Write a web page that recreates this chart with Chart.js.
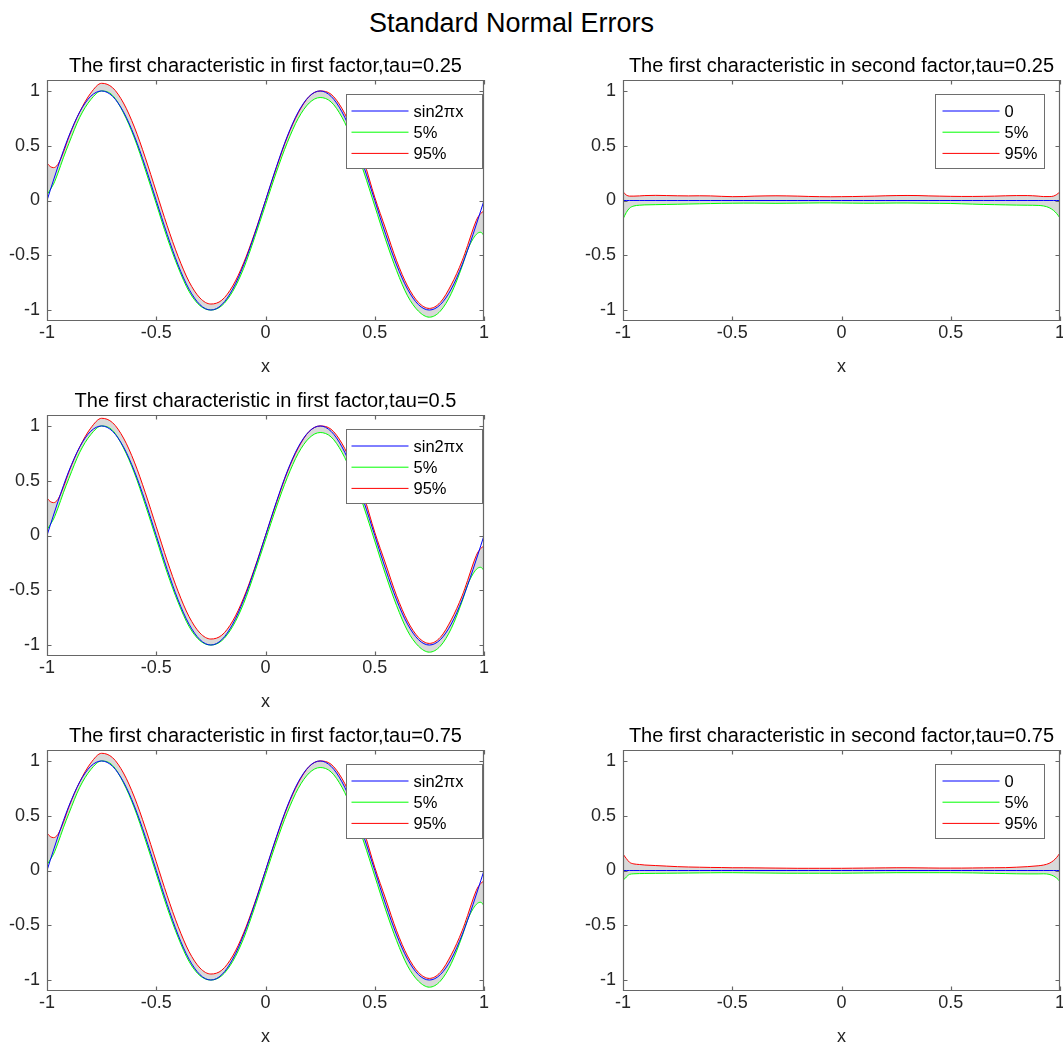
<!DOCTYPE html>
<html>
<head>
<meta charset="utf-8">
<script src="https://cdn.jsdelivr.net/npm/chart.js@4.4.1/dist/chart.umd.min.js"></script>
<style>
  html, body { margin: 0; padding: 0; background: #fff; overflow: hidden; }
  body { width: 1063px; height: 1044px; position: relative; font-family: "Liberation Sans", Arial, sans-serif; }
  #suptitle { position: absolute; left: 0; top: 10px; width: 1023px; text-align: center; font-size: 27px; line-height: 27px; color: #000; }
  canvas { position: absolute; }
</style>
</head>
<body>
<div id="suptitle">Standard Normal Errors</div>
<canvas id="p1" width="496" height="328" style="left:0;top:50px"></canvas>
<canvas id="p2" width="487" height="328" style="left:576px;top:50px"></canvas>
<canvas id="p3" width="496" height="328" style="left:0;top:385px"></canvas>
<canvas id="p5" width="496" height="328" style="left:0;top:720px"></canvas>
<canvas id="p6" width="487" height="328" style="left:576px;top:720px"></canvas>
<script>
const FONT = '"Liberation Sans", Arial, sans-serif';

// grid of x values (denser near the ends)
const xVals = [-1, -0.985, -0.97, -0.95, -0.925, -0.9, -0.85, -0.8, -0.75, -0.7, -0.65, -0.6, -0.55, -0.5,
  -0.45, -0.4, -0.35, -0.3, -0.25, -0.2, -0.15, -0.1, -0.05, 0, 0.05, 0.1, 0.15, 0.2, 0.25, 0.3, 0.35,
  0.4, 0.45, 0.5, 0.55, 0.6, 0.65, 0.7, 0.75, 0.8, 0.85, 0.9, 0.925, 0.95, 0.97, 0.985, 1];
const xTicks = [-1, -0.5, 0, 0.5, 1];
const yTicks = [-1, -0.5, 0, 0.5, 1];

const panelTitles = [
  'The first characteristic in first factor,tau=0.25',
  'The first characteristic in second factor,tau=0.25',
  'The first characteristic in first factor,tau=0.5',
  'The first characteristic in first factor,tau=0.75',
  'The first characteristic in second factor,tau=0.75'
];
const firstLabels = ['sin2\u03c0x', '5%', '95%'];
const secondLabels = ['0', '5%', '95%'];

// first factor (same in the three left panels)
const sinCurve = [0, 0.094, 0.187, 0.309, 0.454, 0.588, 0.809, 0.951, 1, 0.951, 0.809, 0.588, 0.309, 0,
  -0.309, -0.588, -0.809, -0.951, -1, -0.951, -0.809, -0.588, -0.309, 0, 0.309, 0.588, 0.809, 0.951, 1,
  0.951, 0.809, 0.588, 0.309, 0, -0.309, -0.588, -0.809, -0.951, -1, -0.951, -0.809, -0.588, -0.454,
  -0.309, -0.187, -0.094, 0];
const firstLow = [0.05, 0.10, 0.15, 0.25, 0.39, 0.52, 0.76, 0.92, 1.0, 0.96, 0.80, 0.57, 0.28, -0.03,
  -0.34, -0.61, -0.83, -0.96, -1.0, -0.96, -0.83, -0.62, -0.34, -0.04, 0.26, 0.53, 0.75, 0.89, 0.94,
  0.90, 0.76, 0.54, 0.26, -0.05, -0.36, -0.64, -0.87, -1.01, -1.065, -1.01, -0.85, -0.60, -0.45,
  -0.35, -0.30, -0.29, -0.32];
const firstHigh = [0.34, 0.31, 0.30, 0.33, 0.44, 0.58, 0.81, 0.98, 1.07, 1.03, 0.89, 0.67, 0.39, 0.08,
  -0.23, -0.51, -0.74, -0.89, -0.945, -0.91, -0.78, -0.57, -0.30, 0.0, 0.30, 0.58, 0.80, 0.95, 1.0,
  0.97, 0.84, 0.63, 0.36, 0.03, -0.26, -0.55, -0.78, -0.93, -0.985, -0.93, -0.77, -0.55, -0.41,
  -0.26, -0.16, -0.12, -0.09];

// second factor
const zeroCurve = [0, 0, 0, 0, 0, 0, 0, 0, 0, 0, 0, 0, 0, 0, 0, 0, 0, 0, 0, 0, 0, 0, 0, 0,
  0, 0, 0, 0, 0, 0, 0, 0, 0, 0, 0, 0, 0, 0, 0, 0, 0, 0, 0, 0, 0, 0, 0];
const secondLow25 = [-0.17, -0.11, -0.07, -0.05, -0.043, -0.04, -0.038, -0.036, -0.034, -0.032, -0.03,
  -0.028, -0.026, -0.025, -0.024, -0.024, -0.025, -0.026, -0.025, -0.024, -0.023, -0.022, -0.022,
  -0.023, -0.024, -0.025, -0.025, -0.024, -0.023, -0.023, -0.024, -0.025, -0.026, -0.027, -0.03,
  -0.033, -0.036, -0.038, -0.04, -0.042, -0.043, -0.045, -0.05, -0.065, -0.09, -0.12, -0.16];
const secondHigh25 = [0.08, 0.05, 0.04, 0.04, 0.042, 0.045, 0.047, 0.045, 0.043, 0.042, 0.043, 0.042,
  0.038, 0.035, 0.036, 0.04, 0.042, 0.043, 0.042, 0.04, 0.037, 0.035, 0.034, 0.035, 0.036, 0.038,
  0.04, 0.043, 0.045, 0.046, 0.045, 0.042, 0.04, 0.038, 0.037, 0.037, 0.038, 0.04, 0.043, 0.045,
  0.045, 0.04, 0.036, 0.036, 0.04, 0.055, 0.08];
const secondLow75 = [-0.09, -0.06, -0.035, -0.03, -0.028, -0.027, -0.026, -0.025, -0.024, -0.023,
  -0.022, -0.021, -0.02, -0.02, -0.021, -0.022, -0.023, -0.024, -0.025, -0.025, -0.025, -0.025,
  -0.025, -0.025, -0.024, -0.023, -0.022, -0.021, -0.02, -0.02, -0.02, -0.02, -0.02, -0.02, -0.021,
  -0.022, -0.024, -0.026, -0.028, -0.03, -0.031, -0.031, -0.03, -0.035, -0.05, -0.07, -0.10];
const secondHigh75 = [0.15, 0.11, 0.075, 0.06, 0.055, 0.05, 0.045, 0.04, 0.035, 0.032, 0.03, 0.028,
  0.027, 0.025, 0.025, 0.024, 0.023, 0.022, 0.021, 0.02, 0.02, 0.02, 0.02, 0.02, 0.021, 0.022, 0.023,
  0.024, 0.025, 0.025, 0.024, 0.023, 0.022, 0.022, 0.022, 0.023, 0.024, 0.025, 0.026, 0.03, 0.035,
  0.043, 0.05, 0.065, 0.09, 0.12, 0.16];

const pts = ys => ys.map((y, i) => ({ x: xVals[i], y: y }));

// box around the axes with inward ticks, like matlab
const axesBox = {
  id: 'axesBox',
  afterDatasetsDraw(chart) {
    const { ctx, chartArea: a, scales: { x, y } } = chart;
    const tl = 4.5;
    ctx.save();
    ctx.strokeStyle = '#666';
    ctx.lineWidth = 1.2;
    ctx.beginPath();
    ctx.rect(a.left + 0.5, a.top + 0.5, a.width - 1, a.height - 1);
    xTicks.forEach(v => {
      const px = Math.round(x.getPixelForValue(v)) + 0.5;
      ctx.moveTo(px, a.bottom); ctx.lineTo(px, a.bottom - tl);
      ctx.moveTo(px, a.top); ctx.lineTo(px, a.top + tl);
    });
    yTicks.forEach(v => {
      const py = Math.round(y.getPixelForValue(v)) + 0.5;
      ctx.moveTo(a.left, py); ctx.lineTo(a.left + tl, py);
      ctx.moveTo(a.right, py); ctx.lineTo(a.right - tl, py);
    });
    ctx.stroke();
    ctx.restore();
  }
};

// legend box in the upper right corner of the axes
const boxLegend = {
  id: 'boxLegend',
  afterDraw(chart, args, opts) {
    const { ctx, chartArea: a } = chart;
    const bx = Math.round(a.right - opts.inset - opts.width) + 0.5;
    const by = a.top + 14.5;
    ctx.save();
    ctx.fillStyle = '#fff';
    ctx.strokeStyle = '#6e6e6e';
    ctx.lineWidth = 1;
    ctx.fillRect(bx, by, opts.width, 74);
    ctx.strokeRect(bx, by, opts.width, 74);
    ctx.font = '16.5px ' + FONT;
    ctx.textBaseline = 'middle';
    chart.data.datasets.forEach((ds, i) => {
      const ly = by + 16.5 + i * 21.2;
      ctx.strokeStyle = ds.borderColor;
      ctx.lineWidth = 1;
      ctx.beginPath();
      ctx.moveTo(bx + opts.lineStart, ly);
      ctx.lineTo(bx + opts.lineStart + 57, ly);
      ctx.stroke();
      ctx.fillStyle = '#000';
      ctx.fillText(ds.label, bx + opts.textX, ly + 1);
    });
    ctx.restore();
  }
};

function panel(id, title, series, labels, leg, padRight) {
  const line = (color) => ({
    borderColor: color, borderWidth: 1, pointRadius: 0, cubicInterpolationMode: 'monotone', fill: false
  });
  new Chart(document.getElementById(id), {
    type: 'line',
    data: {
      datasets: [
        Object.assign(line('#0000ff'), { label: labels[0], data: pts(series[0]) }),
        Object.assign(line('#00ff00'), { label: labels[1], data: pts(series[1]) }),
        Object.assign(line('#ff0000'), { label: labels[2], data: pts(series[2]),
          fill: '-1', backgroundColor: 'rgba(128,128,128,0.3)' })
      ]
    },
    options: {
      responsive: false,
      animation: false,
      devicePixelRatio: 1,
      layout: { padding: { left: 0, right: padRight, top: 0, bottom: 0 } },
      plugins: {
        legend: { display: false },
        tooltip: { enabled: false },
        title: {
          display: true, text: title, fullSize: false, color: '#000',
          font: { family: FONT, size: 20, weight: 'normal', lineHeight: 1.2 },
          padding: { top: 4.3, bottom: 1.7 }
        },
        boxLegend: leg
      },
      scales: {
        x: {
          type: 'linear', min: -1, max: 1,
          afterBuildTicks: s => { s.ticks = xTicks.map(v => ({ value: v })); },
          afterFit: s => { s.height = 57; s.paddingLeft = 0; s.paddingRight = 0; },
          grid: { display: false, drawTicks: false },
          border: { display: false },
          ticks: { padding: 1, color: '#262626', maxRotation: 0, font: { family: FONT, size: 18 },
            callback: v => String(v) },
          title: { display: true, text: 'x', color: '#262626', padding: { top: 0, bottom: 0 },
            font: { family: FONT, size: 18 } }
        },
        y: {
          type: 'linear', min: -1.1, max: 1.1,
          afterBuildTicks: s => { s.ticks = yTicks.map(v => ({ value: v })); },
          afterFit: s => { s.width = 47; },
          grid: { display: false, drawTicks: false },
          border: { display: false },
          ticks: { padding: 7, color: '#262626', font: { family: FONT, size: 18 },
            callback: v => String(v) }
        }
      }
    },
    plugins: [axesBox, boxLegend]
  });
}

const legFirst = { width: 136, inset: 2, lineStart: 5, textX: 67 };
const legSecond = { width: 109, inset: 16, lineStart: 7, textX: 69 };

panel('p1', panelTitles[0], [sinCurve, firstLow, firstHigh], firstLabels, legFirst, 12);
panel('p2', panelTitles[1], [zeroCurve, secondLow25, secondHigh25], secondLabels, legSecond, 3);
panel('p3', panelTitles[2], [sinCurve, firstLow, firstHigh], firstLabels, legFirst, 12);
panel('p5', panelTitles[3], [sinCurve, firstLow, firstHigh], firstLabels, legFirst, 12);
panel('p6', panelTitles[4], [zeroCurve, secondLow75, secondHigh75], secondLabels, legSecond, 3);
</script>
</body>
</html>
